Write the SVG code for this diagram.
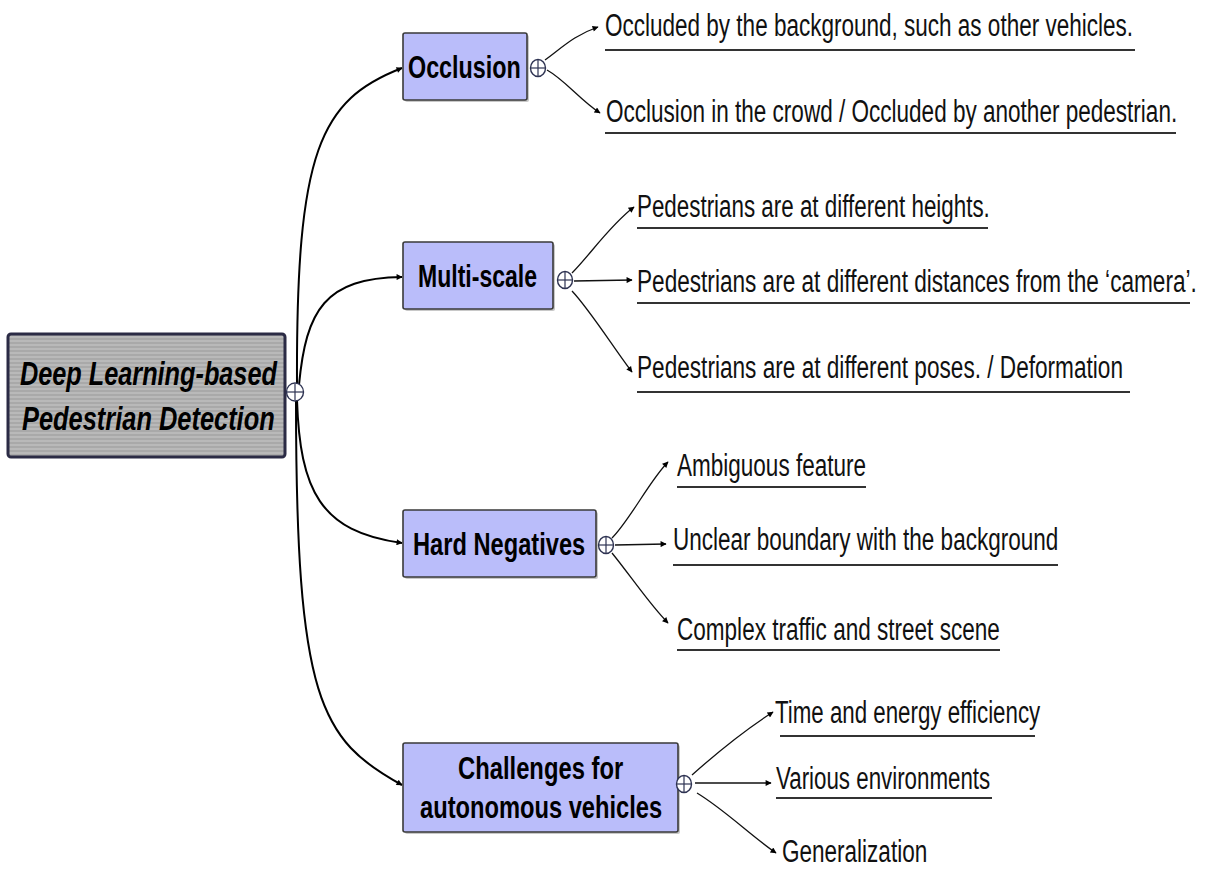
<svg xmlns="http://www.w3.org/2000/svg" width="1206" height="869" viewBox="0 0 1206 869">
<style>
.node{fill:#babdfa;stroke:#3a3a3a;stroke-width:1.6}
.shadow{fill:#c8c8c8;stroke:none}
.nt{font-family:"Liberation Sans",Arial,sans-serif;font-weight:bold;font-size:32px;fill:#000}
.rt{font-family:"Liberation Sans",Arial,sans-serif;font-weight:bold;font-style:italic;font-size:33px;fill:#000}
.ct{font-family:"Liberation Sans",Arial,sans-serif;font-size:31px;fill:#111}
.ul{stroke:#333;stroke-width:2}
.tog{fill:#fff;stroke:#2e3352;stroke-width:1.4}
.plus{stroke:#2e3352;stroke-width:1.2}
.main{fill:none;stroke:#000;stroke-width:2}
.sub{fill:none;stroke:#111;stroke-width:1.3}
</style>
<defs>
<pattern id="stripes" width="8" height="4" patternUnits="userSpaceOnUse">
<rect width="8" height="4" fill="#a9a9a9"/>
<rect width="8" height="2" fill="#b9b9b9"/>
</pattern>
<marker id="ah" viewBox="0 0 10 10" refX="9" refY="5" markerWidth="8" markerHeight="6" markerUnits="userSpaceOnUse" orient="auto">
<path d="M0,0 L10,5 L0,10 z" fill="#000"/>
</marker>
</defs>
<rect width="1206" height="869" fill="#fff"/>
<g id="connectors">
<path class="main" d="M297,384 C296,150 320,100 402,68" marker-end="url(#ah)"/>
<path class="main" d="M299,385 C306,310 325,278 402,277" marker-end="url(#ah)"/>
<path class="main" d="M297,400 C300,490 320,532 402,543" marker-end="url(#ah)"/>
<path class="main" d="M296,400 C296,700 320,740 402,785" marker-end="url(#ah)"/>
<path class="sub" d="M545,60 C565,45 575,35 598,27" marker-end="url(#ah)"/>
<path class="sub" d="M547,70 C565,80 580,100 600,113" marker-end="url(#ah)"/>
<path class="sub" d="M572,273 C590,255 610,225 634,207" marker-end="url(#ah)"/>
<path class="sub" d="M574,281 L632,280" marker-end="url(#ah)"/>
<path class="sub" d="M572,291 C590,310 615,350 632,372" marker-end="url(#ah)"/>
<path class="sub" d="M612,538 C630,520 650,480 668,462" marker-end="url(#ah)"/>
<path class="sub" d="M615,545 L666,544" marker-end="url(#ah)"/>
<path class="sub" d="M612,553 C630,575 650,605 668,623" marker-end="url(#ah)"/>
<path class="sub" d="M692,775 C720,750 745,730 773,712" marker-end="url(#ah)"/>
<path class="sub" d="M695,783 L771,783" marker-end="url(#ah)"/>
<path class="sub" d="M697,793 C725,810 750,835 776,853" marker-end="url(#ah)"/>
</g>
<g id="root">
<rect x="8" y="334" width="277" height="123" rx="3" fill="url(#stripes)" stroke="#2b2b45" stroke-width="3"/>
<text class="rt" transform="translate(20,385) scale(0.7,1)" textLength="367" lengthAdjust="spacingAndGlyphs">Deep Learning-based</text>
<text class="rt" transform="translate(22,430) scale(0.7,1)" textLength="361" lengthAdjust="spacingAndGlyphs">Pedestrian Detection</text>
<ellipse class="tog" cx="295" cy="392" rx="8.5" ry="9"/>
<line class="plus" x1="287" y1="392" x2="303" y2="392"/>
<line class="plus" x1="295" y1="384" x2="295" y2="400"/>
</g>
<g id="occlusion">
<rect class="shadow" x="405" y="35" width="124" height="67" rx="2"/>
<rect class="node" x="403" y="33" width="124" height="67" rx="2"/>
<text class="nt" transform="translate(408,78) scale(0.7,1)" textLength="161" lengthAdjust="spacingAndGlyphs">Occlusion</text>
<ellipse class="tog" cx="538" cy="68" rx="7.5" ry="8.5"/>
<line class="plus" x1="531" y1="68" x2="545" y2="68"/>
<line class="plus" x1="538" y1="60" x2="538" y2="76"/>
</g>
<g id="multiscale">
<rect class="shadow" x="405" y="244" width="150" height="67" rx="2"/>
<rect class="node" x="403" y="242" width="150" height="67" rx="2"/>
<text class="nt" transform="translate(418,287) scale(0.7,1)" textLength="170" lengthAdjust="spacingAndGlyphs">Multi-scale</text>
<ellipse class="tog" cx="565" cy="280" rx="7.5" ry="8.5"/>
<line class="plus" x1="558" y1="280" x2="572" y2="280"/>
<line class="plus" x1="565" y1="272" x2="565" y2="288"/>
</g>
<g id="hardneg">
<rect class="shadow" x="405" y="512" width="193" height="67" rx="2"/>
<rect class="node" x="403" y="510" width="193" height="67" rx="2"/>
<text class="nt" transform="translate(413,555) scale(0.7,1)" textLength="246" lengthAdjust="spacingAndGlyphs">Hard Negatives</text>
<ellipse class="tog" cx="606" cy="545" rx="7.5" ry="8.5"/>
<line class="plus" x1="599" y1="545" x2="613" y2="545"/>
<line class="plus" x1="606" y1="537" x2="606" y2="553"/>
</g>
<g id="challenges">
<rect class="shadow" x="405" y="745" width="275" height="89" rx="2"/>
<rect class="node" x="403" y="743" width="275" height="89" rx="2"/>
<text class="nt" transform="translate(458,779) scale(0.7,1)" textLength="236" lengthAdjust="spacingAndGlyphs">Challenges for</text>
<text class="nt" transform="translate(420,818) scale(0.7,1)" textLength="346" lengthAdjust="spacingAndGlyphs">autonomous vehicles</text>
<ellipse class="tog" cx="684" cy="784" rx="7.5" ry="8.5"/>
<line class="plus" x1="677" y1="784" x2="691" y2="784"/>
<line class="plus" x1="684" y1="776" x2="684" y2="792"/>
</g>
<g id="occ1">
<text class="ct" transform="translate(605,36) scale(0.6,1)" textLength="880" lengthAdjust="spacingAndGlyphs">Occluded by the background, such as other vehicles.</text>
<line class="ul" x1="605" y1="50" x2="1135" y2="50"/>
</g>
<g id="occ2">
<text class="ct" transform="translate(606,122) scale(0.6,1)" textLength="952" lengthAdjust="spacingAndGlyphs">Occlusion in the crowd / Occluded by another pedestrian.</text>
<line class="ul" x1="605" y1="133" x2="1176" y2="133"/>
</g>
<g id="ms1">
<text class="ct" transform="translate(637,217) scale(0.6,1)" textLength="588" lengthAdjust="spacingAndGlyphs">Pedestrians are at different heights.</text>
<line class="ul" x1="637" y1="228" x2="988" y2="228"/>
</g>
<g id="ms2">
<text class="ct" transform="translate(637,292) scale(0.6,1)" textLength="933" lengthAdjust="spacingAndGlyphs">Pedestrians are at different distances from the ‘camera’.</text>
<line class="ul" x1="637" y1="303" x2="1190" y2="303"/>
</g>
<g id="ms3">
<text class="ct" transform="translate(637,378) scale(0.6,1)" textLength="810" lengthAdjust="spacingAndGlyphs">Pedestrians are at different poses. / Deformation</text>
<line class="ul" x1="637" y1="392" x2="1130" y2="392"/>
</g>
<g id="hn1">
<text class="ct" transform="translate(677,476) scale(0.6,1)" textLength="315" lengthAdjust="spacingAndGlyphs">Ambiguous feature</text>
<line class="ul" x1="677" y1="487" x2="866" y2="487"/>
</g>
<g id="hn2">
<text class="ct" transform="translate(673,550) scale(0.6,1)" textLength="642" lengthAdjust="spacingAndGlyphs">Unclear boundary with the background</text>
<line class="ul" x1="673" y1="565" x2="1058" y2="565"/>
</g>
<g id="hn3">
<text class="ct" transform="translate(677,640) scale(0.6,1)" textLength="538" lengthAdjust="spacingAndGlyphs">Complex traffic and street scene</text>
<line class="ul" x1="677" y1="650" x2="1000" y2="650"/>
</g>
<g id="ch1">
<text class="ct" transform="translate(775,723) scale(0.6,1)" textLength="442" lengthAdjust="spacingAndGlyphs">Time and energy efficiency</text>
<line class="ul" x1="780" y1="736" x2="1035" y2="736"/>
</g>
<g id="ch2">
<text class="ct" transform="translate(776,789) scale(0.6,1)" textLength="357" lengthAdjust="spacingAndGlyphs">Various environments</text>
<line class="ul" x1="776" y1="798" x2="992" y2="798"/>
</g>
<g id="ch3">
<text class="ct" transform="translate(782,862) scale(0.6,1)" textLength="242" lengthAdjust="spacingAndGlyphs">Generalization</text>
</g>
</svg>
